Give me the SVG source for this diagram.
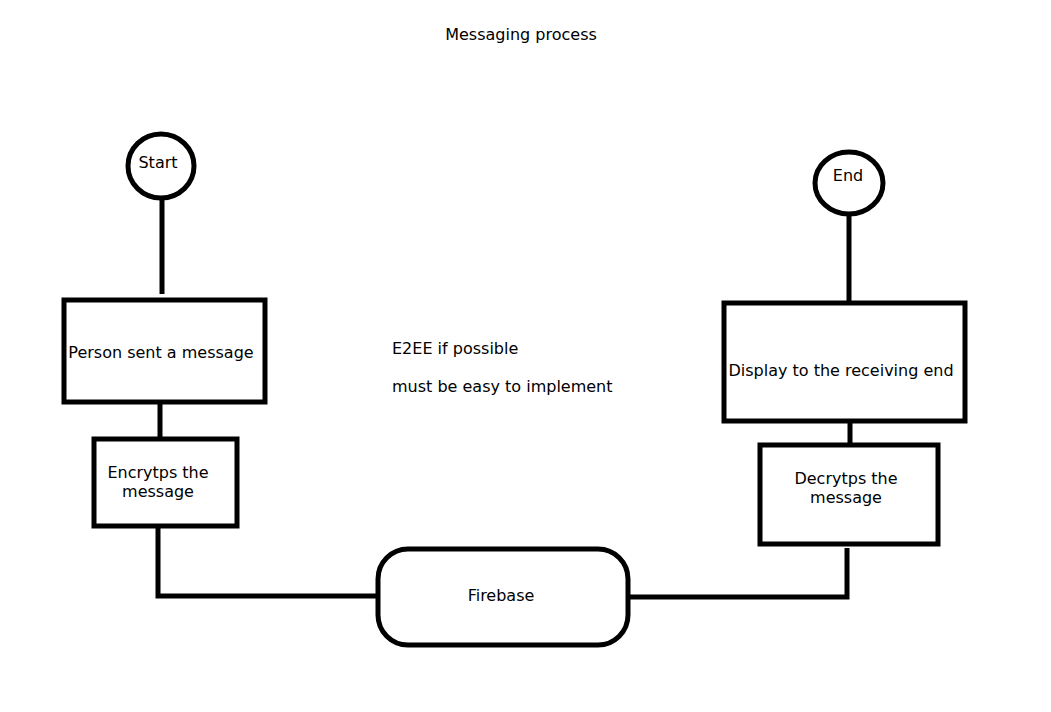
<svg xmlns="http://www.w3.org/2000/svg" width="1051" height="712" viewBox="0 0 1051 712">
<style>
.s{fill:#fff;stroke:#000;stroke-width:5}
.c{fill:none;stroke:#000;stroke-width:5}
text{font-family:"DejaVu Sans",sans-serif;font-size:16px;fill:#000}
.m{text-anchor:middle}
</style>
<rect width="1051" height="712" fill="#fff"/>
<text id="title" class="m" x="521" y="40">Messaging process</text>
<g id="connectors">
<line class="c" x1="162" y1="198" x2="162" y2="294"/>
<line class="c" x1="160" y1="402" x2="160" y2="439"/>
<polyline class="c" points="158,526 158,596 378,596"/>
<polyline class="c" points="628,597 847,597 847,548"/>
<line class="c" x1="850" y1="421" x2="850" y2="445"/>
<line class="c" x1="849" y1="215" x2="849" y2="303"/>
</g>
<g id="start"><ellipse class="s" cx="161" cy="166" rx="33" ry="32"/><text class="m" x="158" y="168">Start</text></g>
<g id="person"><rect class="s" x="64" y="300" width="201" height="102"/><text class="m" x="161" y="358">Person sent a message</text></g>
<g id="encrypt"><rect class="s" x="94" y="439" width="143" height="87"/><text class="m" x="158" y="478">Encrytps the</text><text class="m" x="158" y="497">message</text></g>
<g id="firebase"><rect class="s" x="378" y="549" width="250" height="96" rx="30"/><text class="m" x="501" y="601">Firebase</text></g>
<g id="decrypt"><rect class="s" x="760" y="445" width="178" height="99"/><text class="m" x="846" y="484">Decrytps the</text><text class="m" x="846" y="503">message</text></g>
<g id="display"><rect class="s" x="724" y="303" width="241" height="118"/><text class="m" x="841" y="376">Display to the receiving end</text></g>
<g id="end"><ellipse class="s" cx="849" cy="183" rx="34" ry="31"/><text class="m" x="848" y="181">End</text></g>
<g id="note"><text x="392" y="354">E2EE if possible</text><text x="392" y="392">must be easy to implement</text></g>
</svg>
